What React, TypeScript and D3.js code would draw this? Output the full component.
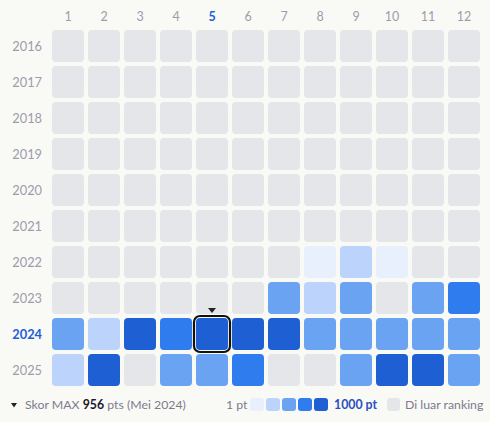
import React from "react";
import * as d3 from "d3";

const months = ["1", "2", "3", "4", "5", "6", "7", "8", "9", "10", "11", "12"];
const years = ["2016", "2017", "2018", "2019", "2020", "2021", "2022", "2023", "2024", "2025"];
// points per month (null = outside ranking)
const pts2016 = [null, null, null, null, null, null, null, null, null, null, null, null];
const pts2017 = [null, null, null, null, null, null, null, null, null, null, null, null];
const pts2018 = [null, null, null, null, null, null, null, null, null, null, null, null];
const pts2019 = [null, null, null, null, null, null, null, null, null, null, null, null];
const pts2020 = [null, null, null, null, null, null, null, null, null, null, null, null];
const pts2021 = [null, null, null, null, null, null, null, null, null, null, null, null];
const pts2022 = [null, null, null, null, null, null, null, 120, 310, 110, null, null];
const pts2023 = [null, null, null, null, null, null, 480, 290, 470, null, 500, 690];
const pts2024 = [520, 300, 880, 720, 956, 900, 870, 510, 490, 500, 480, 470];
const pts2025 = [280, 910, null, 500, 460, 700, null, null, 480, 890, 900, 470];
const seriesByYear: (number | null)[][] = [pts2016, pts2017, pts2018, pts2019, pts2020, pts2021, pts2022, pts2023, pts2024, pts2025];

const levelColors = ["#e8effd", "#bcd3fb", "#6ba3f3", "#2f7cee", "#1f5fd4"];
const emptyColor = "#e5e6ea";
const maxLabel = { value: 956, month: "5", year: "2024", text: "Mei 2024" };

const W = 490, H = 422;
const FONT = "Lato, 'Noto Sans', sans-serif";

export default function App() {
  const x = d3.scaleBand().domain(months).range([50, 482]).paddingInner(4 / 36).paddingOuter(2 / 36);
  const y = d3.scaleBand().domain(years).range([28, 388]).paddingInner(4 / 36).paddingOuter(2 / 36);
  const color = d3.scaleQuantize<string>().domain([0, 1000]).range(levelColors);
  const bw = x.bandwidth();
  const bh = y.bandwidth();
  const hx = x(maxLabel.month)!;
  const hy = y(maxLabel.year)!;

  return (
    <svg width={W} height={H} style={{ position: "absolute", left: 0, top: 0, background: "#f9f9f6" }} fontFamily={FONT}>
      <rect width={W} height={H} fill="#f9f9f6" />
      {months.map((m) => (
        <text key={m} x={x(m)! + bw / 2} y={21} textAnchor="middle" fontSize={12.5}
          fill={m === maxLabel.month ? "#1f5fd4" : "#9e9cab"} fontWeight={m === maxLabel.month ? 700 : 400}>{m}</text>
      ))}
      {years.map((yr) => (
        <text key={yr} x={42} y={y(yr)! + bh / 2 + 4.5} textAnchor="end" fontSize={12.8}
          fill={yr === maxLabel.year ? "#1f5fd4" : "#9e9cab"} fontWeight={yr === maxLabel.year ? 700 : 400}>{yr}</text>
      ))}
      {years.map((yr, yi) =>
        months.map((m, mi) => {
          const v = seriesByYear[yi][mi];
          return (
            <rect key={yr + m} x={x(m)} y={y(yr)} width={bw} height={bh} rx={4}
              fill={v == null ? emptyColor : color(v)} />
          );
        })
      )}
      <rect x={hx - 2} y={hy - 2} width={bw + 4} height={bh + 4} rx={6} fill="none" stroke="#111" strokeWidth={2.2} />
      <path d={`M${hx + bw / 2 - 4},${hy - 10}L${hx + bw / 2 + 4},${hy - 10}L${hx + bw / 2},${hy - 5}Z`} fill="#222" />

      {/* footer */}
      <path d="M11,403L17,403L14,407.5Z" fill="#222" />
      <text x={25} y={409} fontSize={12.3} fill="#7d7b8c">
        Skor MAX <tspan fontWeight={700} fill="#1a1a2a">{maxLabel.value}</tspan> pts ({maxLabel.text})
      </text>
      <text x={226} y={409} fontSize={12.3} fill="#7d7b8c">1 pt</text>
      {levelColors.map((c, i) => (
        <rect key={c} x={250 + i * 16} y={398} width={14} height={13} rx={3} fill={c} />
      ))}
      <text x={334} y={409} fontSize={12.3} fontWeight={700} fill="#2a4fc0">1000 pt</text>
      <rect x={387} y={398} width={13} height={13} rx={3} fill={emptyColor} />
      <text x={405} y={409} fontSize={12.3} fill="#7d7b8c">Di luar ranking</text>
    </svg>
  );
}
